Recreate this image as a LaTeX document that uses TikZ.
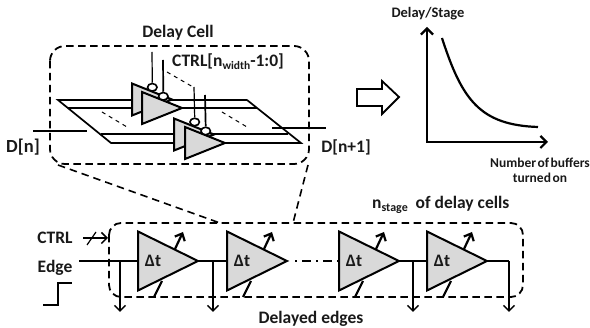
\documentclass[tikz,border=0pt]{standalone}
\usepackage{fontspec}
\setmainfont{Carlito}
\usetikzlibrary{shapes.geometric,arrows.meta}
\tikzset{
  x=1pt,y=-1pt,
  lab/.style={font=\bfseries\fontsize{#1}{#1}\selectfont,inner sep=0pt,align=center,text=black!90},
  lab/.default=13,
  boxdash/.style={line width=1.8pt,dash pattern=on 7.5pt off 4.5pt},
  wire/.style={line width=1.7pt},
  thin wire/.style={line width=1.3pt},
  opn/.style={-{Straight Barb[length=5.5pt,width=11pt,line width=1.5pt]}},
  fat/.style={-{Straight Barb[length=6pt,width=11pt,line width=2.2pt]},line width=2.2pt},
  dlt/.style={isosceles triangle,isosceles triangle stretches,shape border rotate=0,
     draw,fill=black!15,line width=2pt,inner sep=0pt,outer sep=0pt,
     minimum width=59pt,minimum height=60pt,anchor=lower side},
  cell/.style={isosceles triangle,isosceles triangle stretches,shape border rotate=0,
     draw,fill=black!15,line width=2pt,inner sep=0pt,outer sep=0pt,
     minimum width=32pt,minimum height=40pt,anchor=lower side},
  bub/.style={ellipse,draw,fill=white,line width=1.6pt,minimum width=9.5pt,minimum height=7.5pt,inner sep=0pt},
  dd/.style={line width=1pt,dash pattern=on 4pt off 4pt},
}
\begin{document}
\begin{tikzpicture}
\useasboundingbox (0,0) rectangle (590,328);
% ---- top cell ----
\coordinate (pa) at (58,100); \coordinate (pb) at (247,100);
\coordinate (pc) at (301,143); \coordinate (pd) at (111,143);
\coordinate (qa) at (68,108); \coordinate (qb) at (257,108);
\coordinate (ra) at (101,134); \coordinate (rb) at (288,134);
\draw[wire] (pb) -- (pa) -- (pd) -- (pc) -- (pb);
\draw[wire] (qa) -- (qb);
\draw[wire] (ra) -- (rb);
% control wires
\coordinate (c1) at (152,52); \coordinate (c2) at (163,60);
\coordinate (c3) at (194,87); \coordinate (c4) at (205,95);
\node[cell] (u1) at (132,99.5) {};
\node[bub] (b1) at (152.3,87.3) {};
\draw[line width=1.2pt] (c1) -- (b1.north);
\node[cell] (u2) at (142,108) {};
\node[bub] (b2) at (163.3,96.3) {};
\draw[wire] (c2) -- (b2.north);
\node[cell] (u3) at (174,134.5) {};
\node[bub] (b3) at (194.7,122) {};
\draw[line width=1.2pt] (c3) -- (b3.north);
\node[cell] (u4) at (185,143) {};
\node[bub] (b4) at (205.7,131) {};
\draw[wire] (c4) -- (b4.north);
% dashes inside
\coordinate (e1) at (167,72); \coordinate (e2) at (193,87);
\coordinate (e3) at (102,112); \coordinate (e4) at (127,127);
\coordinate (e5) at (222,112); \coordinate (e6) at (247,127);
\draw[dd] (e1) -- (e2);
\draw[dd] (e3) -- (e4);
\draw[dd] (e5) -- (e6);
% D wires
\coordinate (d1) at (33,131); \coordinate (d2) at (87,131);
\coordinate (d3) at (272,128); \coordinate (d4) at (326,128);
\draw[wire] (d1) -- (d2);
\draw[wire] (d3) -- (d4);
% dashed box
\draw[boxdash,rounded corners=15pt] (50,46) rectangle (309,164);
\node[lab=17.5] (tcell) at (178,33) {Delay Cell};
\node[lab=17.5,anchor=west] (tctrl) at (172,62) {CTRL[n\raisebox{-3pt}{\fontsize{11.5}{11.5}\selectfont width}-1:0]};
\node[lab=18.5] (tdn) at (23,147) {D[n]};
\node[lab=17.5] (tdn1) at (346,147) {D[n+1]};
% zoom lines
\coordinate (z1) at (58,165); \coordinate (z2) at (220,223);
\coordinate (z3) at (308,165); \coordinate (z4) at (293,223);
\draw[line width=1.6pt,dash pattern=on 7.5pt off 5pt] (z1) -- (z2);
\draw[line width=1.6pt,dash pattern=on 7.5pt off 5pt] (z3) -- (z4);
% ---- bottom chain ----
\draw[boxdash,rounded corners=12pt] (109,223) rectangle (523,297);
\coordinate (in) at (79,261);
\coordinate (out) at (509,261);
\node[dlt] (t1) at (138,261) {};
\node[dlt] (t2) at (227,261) {};
\node[dlt] (t3) at (339,261) {};
\node[dlt] (t4) at (427,261) {};
\draw[wire] (in) -- (t1.lower side);
\draw[wire] (t1.apex) -- (t2.lower side);
\draw[wire] (t3.apex) -- (t4.lower side);
\draw[wire,dash pattern=on 2pt off 5pt on 9pt off 5pt] (295,261) -- (t3.lower side);
\draw[wire] (t4.apex) -- (out);
\foreach \n/\xx in {1/138,2/227,3/339,4/427}{
  \node[lab=17.5] (dt\n) at (\xx+15,261) {Δt};
  \coordinate (ua\n) at (\xx+37,249);
  \coordinate (ub\n) at (\xx+45,232);
  \coordinate (la\n) at (\xx+24,281);
  \coordinate (lb\n) at (\xx+16,297);
  \draw[fat] (ua\n) -- (ub\n);
  \draw[line width=2.2pt] (la\n) -- (lb\n);
}
% taps
\coordinate (s1) at (120,261); \coordinate (s1e) at (120,312);
\coordinate (s2) at (213,261); \coordinate (s2e) at (213,312);
\coordinate (s3) at (413,261); \coordinate (s3e) at (413,312);
\coordinate (s4e) at (509,312);
\draw[thin wire,opn] (s1) -- (s1e);
\draw[thin wire,opn] (s2) -- (s2e);
\draw[thin wire,opn] (s3) -- (s3e);
\draw[wire,opn] (out) -- (s4e);
% CTRL
\coordinate (k1) at (83,238); \coordinate (k2) at (108,238);
\coordinate (k3) at (87,245); \coordinate (k4) at (96,232);
\draw[line width=1.2pt,opn] (k1) -- (k2);
\draw[line width=1.2pt] (k3) -- (k4);
\node[lab=17.5] (tctl) at (55,238) {CTRL};
\node[lab=17.5] (tedge) at (55,268) {Edge};
\coordinate (w1) at (43,305); \coordinate (w2) at (58,305);
\coordinate (w3) at (58,283); \coordinate (w4) at (72,283);
\draw[line width=2.2pt] (w1) -- (w2) -- (w3) -- (w4);
\node[lab=17.5,anchor=west] (tn) at (372,205) {n\raisebox{-3pt}{\fontsize{12}{12}\selectfont stage}\ \ of delay cells};
\node[lab=17.5] (tde) at (311,319) {Delayed edges};
% ---- graph ----
\coordinate (ytop) at (427,27); \coordinate (orig) at (427,142); \coordinate (xend) at (548,142);
\draw[line width=2.2pt,{Straight Barb[length=6pt,width=12pt,line width=2.2pt]}-{Straight Barb[length=6pt,width=12pt,line width=2.2pt]}] (ytop) -- (orig) -- (xend);
\coordinate (ca) at (442,38); \coordinate (cb) at (538,127);
\draw[line width=2.2pt] (ca) .. controls (462,100) and (480,125) .. (cb);
\node[lab=14.5] (tds) at (428,14) {Delay/Stage};
\node[lab=13.5] (tnb) at (540,170.5) {\spaceskip=1.5pt Number of buffers\\[1.5pt]\spaceskip=1.5pt turned on};
% block arrow
\draw[line width=1.8pt,fill=white] (357,89) -- (382,89) -- (382,81) -- (399,97) -- (382,114) -- (382,106) -- (357,106) -- cycle;
\end{tikzpicture}
\end{document}
